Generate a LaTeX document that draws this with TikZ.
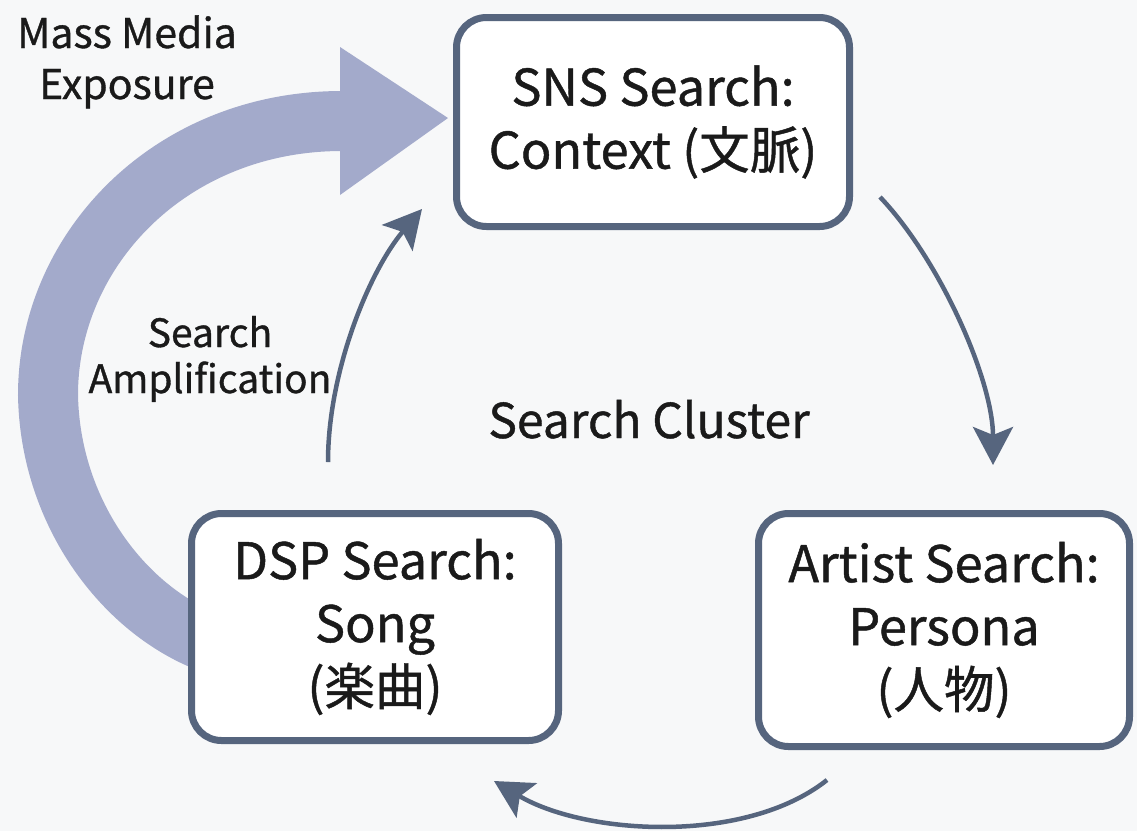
\documentclass[tikz,border=0pt]{standalone}
\usepackage{fontspec}
\setmainfont{Noto Sans CJK JP}[FakeBold=0.9]
\usetikzlibrary{arrows.meta}
\definecolor{slate}{HTML}{56657E}
\definecolor{bandblue}{HTML}{A3AACB}
\definecolor{paper}{HTML}{F7F8F9}
\definecolor{ink}{HTML}{1A1A1A}
\begin{document}
\begin{tikzpicture}[x=1pt, y=-1pt,
  stage/.style={draw=slate, line width=7pt, rounded corners=30pt, fill=white,
    align=center, inner sep=0pt, text=ink, font=\fontsize{50.5}{63}\selectfont},
  flow/.style={draw=slate, line width=4.5pt,
    -{Stealth[length=38pt, width=40pt, inset=8pt]}},
  caption/.style={align=center, inner sep=0pt, text=ink}]
  % canvas
  \fill[paper] (0,0) rectangle (1137,831);
  \useasboundingbox (0,0) rectangle (1137,831);

  % wide feedback band (drawn first so the DSP box covers its tail)
  \coordinate (bandtip) at (448,118);
  \coordinate (bandbend) at (48,395);
  \draw[bandblue, line width=60pt] (203,640) .. controls (120,605) and (50,510) .. (bandbend)
        .. controls (48,250) and (170,121) .. (342,121);
  \fill[bandblue] (340,47) -- (bandtip) -- (340,195) -- cycle;

  % search stages
  \node[stage, minimum width=393pt, minimum height=209pt] (sns) at (653,122)
       {SNS Search:\\Context (文脈)};
  \node[stage, minimum width=371pt, minimum height=233pt] (artist) at (944,630)
       {Artist Search:\\Persona\\(人物)};
  \node[stage, minimum width=367pt, minimum height=227pt] (dsp) at (375,627)
       {DSP Search:\\Song\\(楽曲)};

  % cycle connectors
  \coordinate (s1) at (880,197);  \coordinate (e1) at (993,465);
  \coordinate (s2) at (827,780);  \coordinate (e2) at (494,781);
  \coordinate (s3) at (328,462);  \coordinate (e3) at (422,209);
  \draw[flow] (s1) .. controls (940,260) and (993,380) .. (e1);
  \draw[flow] (s2) .. controls (745,845) and (585,835) .. (e2);
  \draw[flow] (s3) .. controls (328,370) and (370,270) .. (e3);

  % captions (base anchor sits on the last line)
  \node[caption, font=\fontsize{41}{51}\selectfont, anchor=base] (mme) at (127,99)
       {Mass Media\\Exposure};
  \node[caption, font=\fontsize{39}{46}\selectfont, anchor=base] (amp) at (210,393)
       {Search\\Amplification};
  \node[caption, font=\fontsize{48}{59}\selectfont, anchor=base] (cluster) at (649,438)
       {Search Cluster};
\end{tikzpicture}
\end{document}
